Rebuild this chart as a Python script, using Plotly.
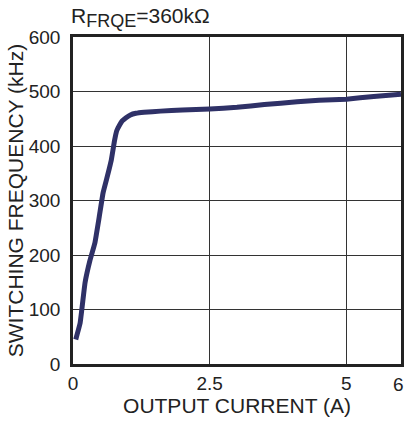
import plotly.graph_objects as go

current_a = [0.05, 0.13, 0.22, 0.31, 0.40, 0.48, 0.55, 0.63, 0.70, 0.76, 0.80, 0.85, 0.90, 0.97, 1.05, 1.15, 1.30, 1.60, 2.00, 2.50, 3.00, 3.50, 4.10, 4.50, 5.00, 5.50, 6.00]
freq_khz = [45, 75, 149, 190, 222, 270, 314, 345, 374, 410, 428, 438, 446, 452, 457, 460, 462, 464, 466, 468, 471, 476, 481, 484, 486, 491, 495]

x_ticks = [0, 2.5, 5, 6]
x_tick_text = ["0", "2.5", "5", ""]
x_last_label = "6"
y_ticks = [0, 100, 200, 300, 400, 500, 600]

fig = go.Figure()
fig.add_trace(go.Scatter(
    x=current_a, y=freq_khz, mode="lines",
    line=dict(color="#2f3167", width=5, shape="spline", smoothing=0.3),
    showlegend=False, hoverinfo="skip",
))

fam = "Liberation Sans, Arial, sans-serif"
tick_font = dict(family=fam, size=19, color="#222222")
title_font = dict(family=fam, size=21, color="#222222")

fig.update_layout(
    width=404, height=423,
    margin=dict(l=73, r=3, t=37, b=59),
    paper_bgcolor="white", plot_bgcolor="white",
    font=tick_font,
    xaxis=dict(
        range=[0, 6], tickvals=x_ticks, ticktext=x_tick_text,
        showgrid=True, gridcolor="#333333", gridwidth=1.2,
        showline=True, linecolor="#222222", linewidth=2.5, mirror=True,
        ticks="", zeroline=False, automargin=False,
        title=dict(text="OUTPUT CURRENT (A)", font=title_font, standoff=2),
        tickfont=tick_font,
    ),
    yaxis=dict(
        range=[0, 600], tickvals=y_ticks,
        showgrid=True, gridcolor="#333333", gridwidth=1.2,
        showline=True, linecolor="#222222", linewidth=2.5, mirror=True,
        ticks="", zeroline=False, automargin=False,
        ticklabelstandoff=6,
        title=dict(text="SWITCHING FREQUENCY (kHz)", font=title_font, standoff=0),
        tickfont=tick_font,
    ),
    annotations=[
        dict(
            text="R<sub><span style=\"font-size:18px\">FRQE</span></sub>=360kΩ",
            xref="paper", yref="paper",
            x=-0.012, y=1.0, xanchor="left", yanchor="bottom", yshift=4,
            showarrow=False, font=title_font,
        ),
        dict(
            text=x_last_label, xref="x", yref="paper",
            x=6, y=0, xanchor="center", yanchor="top", xshift=-3, yshift=-8,
            showarrow=False, font=tick_font,
        ),
    ],
)

fig.write_html(
    "out.html",
    config={"displayModeBar": False},
    post_script="document.body.style.margin='0';document.body.style.overflow='hidden';",
)
